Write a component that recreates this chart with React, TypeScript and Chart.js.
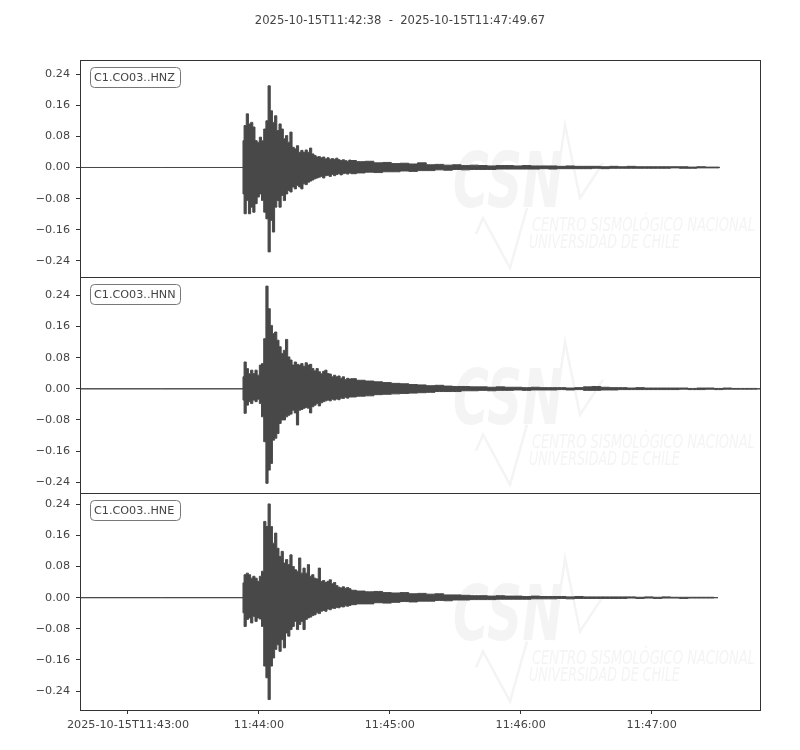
import React, { useEffect, useRef } from 'react';
import { Chart, registerables } from 'chart.js';

Chart.register(...registerables);

// ---- time axis (seconds after 2025-10-15T11:42:38) ----
const TITLE = '2025-10-15T11:42:38  -  2025-10-15T11:47:49.67';
const T_MAX = 311.67;
const X_TICKS = [22, 82, 142, 202, 262];
const X_TICK_LABELS = ['2025-10-15T11:43:00', '11:44:00', '11:45:00', '11:46:00', '11:47:00'];
const Y_TICKS = [-0.24, -0.16, -0.08, 0, 0.08, 0.16, 0.24];

const CHANNELS = ['C1.CO03..HNZ', 'C1.CO03..HNN', 'C1.CO03..HNE'];
const Y_RANGES = [
  [-0.2807, 0.2764],
  [-0.2687, 0.2883],
  [-0.2888, 0.2682],
];

const ONSET = 74.7; // first arrival (s)
const DENSE_STEP = 1; // seconds per max/min pair
const TAIL_STEP = 4;
const TRACE_END = [293.3, 311.67, 292.4];

// ---- HNZ envelope (max / min per second, then per 4 s) ----
const Z_HI = [
  0.069, 0.108, 0.138, 0.112, 0.116, 0.104, 0.069, 0.065, 0.078, 0.069,
  0.099, 0.120, 0.210, 0.146, 0.116, 0.133, 0.095, 0.112, 0.099, 0.074,
  0.082, 0.065, 0.091, 0.052, 0.048, 0.056, 0.039, 0.044, 0.039, 0.045,
  0.039, 0.050, 0.035, 0.031, 0.027, 0.028, 0.025, 0.027, 0.022, 0.025,
  0.021, 0.023, 0.021, 0.024, 0.020, 0.018, 0.020, 0.018, 0.016, 0.019,
];
const Z_LO = [
  -0.068, -0.119, -0.085, -0.119, -0.102, -0.115, -0.093, -0.076, -0.068, -0.085,
  -0.115, -0.132, -0.217, -0.136, -0.166, -0.102, -0.085, -0.102, -0.072, -0.085,
  -0.068, -0.059, -0.063, -0.050, -0.055, -0.046, -0.050, -0.055, -0.042, -0.044,
  -0.038, -0.035, -0.032, -0.029, -0.027, -0.025, -0.023, -0.027, -0.021, -0.020,
  -0.023, -0.018, -0.021, -0.018, -0.016, -0.019, -0.016, -0.015, -0.017, -0.014,
];
const Z_TAIL_HI = [
  0.018, 0.015, 0.016, 0.012, 0.013, 0.010, 0.011, 0.009, 0.012, 0.007,
  0.008, 0.006, 0.007, 0.005, 0.006, 0.005, 0.004, 0.005, 0.005, 0.004,
  0.005, 0.004, 0.004, 0.004, 0.003, 0.004, 0.003, 0.003, 0.003, 0.002,
  0.003, 0.002, 0.003, 0.002, 0.002, 0.002, 0.002, 0.002, 0.002, 0.001,
  0.002, 0.001, 0.001,
];
const Z_TAIL_LO = [
  -0.016, -0.014, -0.012, -0.013, -0.011, -0.011, -0.009, -0.010, -0.008, -0.008,
  -0.006, -0.007, -0.005, -0.006, -0.005, -0.005, -0.005, -0.004, -0.004, -0.004,
  -0.004, -0.004, -0.003, -0.004, -0.003, -0.003, -0.003, -0.003, -0.002, -0.003,
  -0.002, -0.002, -0.002, -0.002, -0.002, -0.002, -0.002, -0.001, -0.002, -0.002,
  -0.001, -0.001, -0.001,
];

// ---- HNN envelope ----
const N_HI = [
  0.031, 0.069, 0.052, 0.039, 0.048, 0.039, 0.048, 0.035, 0.061, 0.065,
  0.129, 0.264, 0.206, 0.163, 0.142, 0.146, 0.125, 0.108, 0.091, 0.099,
  0.127, 0.082, 0.074, 0.061, 0.069, 0.063, 0.061, 0.065, 0.058, 0.067,
  0.061, 0.063, 0.052, 0.046, 0.052, 0.044, 0.039, 0.045, 0.048, 0.039,
  0.038, 0.031, 0.035, 0.031, 0.033, 0.027, 0.031, 0.024, 0.027, 0.025,
];
const N_LO = [
  -0.029, -0.063, -0.042, -0.033, -0.038, -0.029, -0.033, -0.027, -0.038, -0.072,
  -0.136, -0.243, -0.209, -0.192, -0.132, -0.127, -0.115, -0.089, -0.080, -0.080,
  -0.072, -0.068, -0.065, -0.055, -0.062, -0.093, -0.055, -0.053, -0.050, -0.048,
  -0.050, -0.062, -0.046, -0.042, -0.038, -0.044, -0.036, -0.033, -0.031, -0.029,
  -0.031, -0.027, -0.029, -0.026, -0.028, -0.024, -0.025, -0.022, -0.024, -0.021,
];
const N_TAIL_HI = [
  0.026, 0.022, 0.020, 0.018, 0.016, 0.014, 0.013, 0.011, 0.010, 0.008,
  0.009, 0.007, 0.006, 0.006, 0.005, 0.005, 0.004, 0.005, 0.004, 0.004,
  0.003, 0.004, 0.003, 0.003, 0.003, 0.002, 0.003, 0.005, 0.006, 0.004,
  0.003, 0.003, 0.002, 0.003, 0.002, 0.002, 0.002, 0.002, 0.002, 0.001,
  0.002, 0.002, 0.001, 0.002, 0.001, 0.001, 0.001,
];
const N_TAIL_LO = [
  -0.021, -0.019, -0.018, -0.015, -0.014, -0.013, -0.012, -0.011, -0.010, -0.009,
  -0.007, -0.007, -0.007, -0.005, -0.005, -0.004, -0.005, -0.004, -0.004, -0.003,
  -0.004, -0.003, -0.003, -0.003, -0.002, -0.003, -0.002, -0.004, -0.004, -0.003,
  -0.003, -0.002, -0.002, -0.002, -0.002, -0.002, -0.002, -0.002, -0.001, -0.002,
  -0.002, -0.001, -0.002, -0.001, -0.001, -0.001, -0.001,
];

// ---- HNE envelope ----
const E_HI = [
  0.038, 0.059, 0.063, 0.059, 0.050, 0.055, 0.050, 0.042, 0.055, 0.068,
  0.196, 0.183, 0.241, 0.183, 0.140, 0.166, 0.127, 0.106, 0.119, 0.089,
  0.098, 0.085, 0.110, 0.080, 0.072, 0.068, 0.102, 0.063, 0.076, 0.063,
  0.085, 0.055, 0.059, 0.050, 0.048, 0.076, 0.042, 0.044, 0.039, 0.042,
  0.046, 0.036, 0.039, 0.031, 0.027, 0.025, 0.028, 0.024, 0.026, 0.023,
];
const E_LO = [
  -0.039, -0.074, -0.056, -0.052, -0.065, -0.048, -0.061, -0.052, -0.055, -0.074,
  -0.176, -0.206, -0.262, -0.176, -0.155, -0.133, -0.121, -0.138, -0.108, -0.129,
  -0.091, -0.099, -0.082, -0.074, -0.061, -0.082, -0.069, -0.061, -0.082, -0.056,
  -0.052, -0.050, -0.046, -0.044, -0.039, -0.041, -0.035, -0.033, -0.035, -0.029,
  -0.031, -0.027, -0.028, -0.025, -0.026, -0.023, -0.024, -0.021, -0.022, -0.020,
];
const E_TAIL_HI = [
  0.019, 0.017, 0.015, 0.016, 0.013, 0.012, 0.013, 0.010, 0.011, 0.009,
  0.010, 0.007, 0.007, 0.006, 0.005, 0.005, 0.004, 0.005, 0.004, 0.004,
  0.003, 0.004, 0.003, 0.003, 0.003, 0.002, 0.003, 0.002, 0.002, 0.002,
  0.002, 0.002, 0.002, 0.001, 0.002, 0.001, 0.002, 0.001, 0.001, 0.001,
  0.001, 0.001,
];
const E_TAIL_LO = [
  -0.018, -0.016, -0.016, -0.013, -0.014, -0.012, -0.010, -0.011, -0.009, -0.009,
  -0.007, -0.008, -0.006, -0.006, -0.005, -0.005, -0.005, -0.004, -0.004, -0.004,
  -0.004, -0.003, -0.003, -0.003, -0.002, -0.003, -0.002, -0.002, -0.002, -0.002,
  -0.002, -0.002, -0.001, -0.002, -0.001, -0.002, -0.001, -0.001, -0.002, -0.001,
  -0.001, -0.001,
];

const TRACE_COLOR = '#484848';
const AXIS_COLOR = '#333333';
const TEXT_COLOR = '#444444';
const FONT = "'DejaVu Sans', sans-serif";
const WATERMARK = '#f4f4f4';

// one envelope line (upper or lower) from the dense and tail samples
function buildEnvelope(dense: number[], tail: number[], end: number) {
  const pts: { x: number; y: number }[] = [{ x: 0, y: 0 }, { x: ONSET, y: 0 }];
  for (let i = 0; i < dense.length; i++) {
    pts.push({ x: ONSET + i * DENSE_STEP, y: dense[i] });
  }
  const tailStart = ONSET + dense.length * DENSE_STEP;
  for (let k = 0; k < tail.length; k++) {
    pts.push({ x: tailStart + k * TAIL_STEP, y: tail[k] });
  }
  pts.push({ x: end, y: 0 });
  return pts;
}

const fmtY = (v: number) => {
  const r = Math.round(v * 100) / 100;
  if (Math.abs(r) < 1e-9) return '0.00';
  return (r < 0 ? '\u2212' : '') + Math.abs(r).toFixed(2);
};

const AXIS_IDS = ['p0', 'p1', 'p2'];

const panelPlugin = {
  id: 'panelDecor',
  beforeDatasetsDraw(chart: any) {
    const ctx = chart.ctx as CanvasRenderingContext2D;
    const area = chart.chartArea;
    AXIS_IDS.forEach((id) => {
      const s = chart.scales[id];
      const top = s.top;
      ctx.save();
      ctx.beginPath();
      ctx.rect(area.left, s.top, area.right - area.left, s.bottom - s.top);
      ctx.clip();
      ctx.fillStyle = WATERMARK;
      ctx.strokeStyle = WATERMARK;
      ctx.textBaseline = 'alphabetic';
      ctx.textAlign = 'left';
      ctx.font = `italic bold 76px ${FONT}`;
      ctx.fillText('CSN', 453, top + 147, 110);
      ctx.lineWidth = 2.5;
      ctx.lineJoin = 'miter';
      ctx.beginPath();
      ctx.moveTo(553, top + 147);
      ctx.lineTo(565, top + 65);
      ctx.lineTo(580, top + 138);
      ctx.lineTo(603, top + 103);
      ctx.stroke();
      ctx.beginPath();
      ctx.moveTo(476, top + 174);
      ctx.lineTo(483, top + 158);
      ctx.lineTo(510, top + 208);
      ctx.lineTo(527, top + 148);
      ctx.stroke();
      ctx.font = `italic 20px ${FONT}`;
      ctx.fillText('CENTRO SISMOLÓGICO NACIONAL', 532, top + 171, 223);
      ctx.fillText('UNIVERSIDAD DE CHILE', 529, top + 188, 151);
      ctx.restore();
    });
  },
  afterDatasetsDraw(chart: any) {
    const ctx = chart.ctx as CanvasRenderingContext2D;
    const area = chart.chartArea;
    const L = Math.round(area.left) + 0.5;
    const R = Math.round(area.right) + 0.5;
    ctx.save();
    ctx.strokeStyle = AXIS_COLOR;
    ctx.lineWidth = 1;
    AXIS_IDS.forEach((id, i) => {
      const s = chart.scales[id];
      const T = Math.round(s.top) + 0.5;
      const B = Math.round(s.bottom) + 0.5;
      ctx.strokeRect(L, T, R - L, B - T);
      // channel label box
      const bx = L + 10;
      const by = Math.round(s.top) + 7.5;
      const bw = 90;
      const bh = 20;
      ctx.save();
      ctx.beginPath();
      (ctx as any).roundRect(bx, by, bw, bh, 4);
      ctx.fillStyle = '#ffffff';
      ctx.fill();
      ctx.strokeStyle = '#777777';
      ctx.stroke();
      ctx.fillStyle = TEXT_COLOR;
      ctx.font = `11.2px ${FONT}`;
      ctx.textBaseline = 'middle';
      ctx.textAlign = 'left';
      ctx.fillText(CHANNELS[i], bx + 3.5, by + bh / 2 + 0.5);
      ctx.restore();
    });
    ctx.fillStyle = TEXT_COLOR;
    ctx.font = `11.6px ${FONT}`;
    ctx.textAlign = 'center';
    ctx.textBaseline = 'middle';
    ctx.fillText(TITLE, 400, 21);
    ctx.restore();
  },
};

export default function App() {
  const ref = useRef<HTMLCanvasElement | null>(null);
  useEffect(() => {
    if (!ref.current) return;
    const envelopes = [
      [buildEnvelope(Z_LO, Z_TAIL_LO, TRACE_END[0]), buildEnvelope(Z_HI, Z_TAIL_HI, TRACE_END[0])],
      [buildEnvelope(N_LO, N_TAIL_LO, TRACE_END[1]), buildEnvelope(N_HI, N_TAIL_HI, TRACE_END[1])],
      [buildEnvelope(E_LO, E_TAIL_LO, TRACE_END[2]), buildEnvelope(E_HI, E_TAIL_HI, TRACE_END[2])],
    ];
    const datasets: any[] = [];
    envelopes.forEach(([lo, hi], i) => {
      const loIndex = datasets.length;
      datasets.push({
        label: CHANNELS[i] + ' min',
        data: lo,
        yAxisID: AXIS_IDS[i],
        borderColor: TRACE_COLOR,
        borderWidth: 1,
        pointRadius: 0,
        stepped: 'middle',
        fill: false,
      });
      datasets.push({
        label: CHANNELS[i] + ' max',
        data: hi,
        yAxisID: AXIS_IDS[i],
        borderColor: TRACE_COLOR,
        backgroundColor: TRACE_COLOR,
        borderWidth: 1,
        pointRadius: 0,
        stepped: 'middle',
        fill: loIndex,
      });
    });
    const yScale = (i: number) => ({
      type: 'linear',
      position: 'left',
      stack: 'traces',
      stackWeight: 1,
      offset: false,
      min: Y_RANGES[i][0],
      max: Y_RANGES[i][1],
      afterBuildTicks: (s: any) => {
        s.ticks = Y_TICKS.map((v) => ({ value: v }));
      },
      afterFit: (s: any) => {
        s.width = 80;
      },
      ticks: {
        callback: (v: any) => fmtY(Number(v)),
        font: { family: FONT, size: 11.2 },
        color: TEXT_COLOR,
        padding: 6,
        autoSkip: false,
      },
      grid: { drawOnChartArea: false, drawTicks: true, tickLength: 4, color: AXIS_COLOR, lineWidth: 1 },
      border: { display: false },
    });
    // stacked axes are laid out bottom-up: declare the lowest panel first
    const scales: any = {
      x: {
        type: 'linear',
        position: 'bottom',
        min: 0,
        max: T_MAX,
        afterBuildTicks: (s: any) => {
          s.ticks = X_TICKS.map((v) => ({ value: v }));
        },
        afterFit: (s: any) => {
          s.height = 40;
        },
        ticks: {
          callback: (_v: any, idx: number) => X_TICK_LABELS[idx],
          font: { family: FONT, size: 11.2 },
          color: TEXT_COLOR,
          padding: 4,
          maxRotation: 0,
          autoSkip: false,
        },
        grid: { drawOnChartArea: false, drawTicks: true, tickLength: 4, color: AXIS_COLOR, lineWidth: 1 },
        border: { display: false },
      },
    };
    scales[AXIS_IDS[2]] = yScale(2);
    scales[AXIS_IDS[1]] = yScale(1);
    scales[AXIS_IDS[0]] = yScale(0);
    const chart = new Chart(ref.current, {
      type: 'line',
      data: { datasets },
      options: {
        animation: false,
        responsive: false,
        devicePixelRatio: 1,
        parsing: false as any,
        normalized: true,
        events: [],
        layout: { padding: { left: 0, right: 40, top: 60, bottom: 0 } },
        plugins: {
          legend: { display: false },
          tooltip: { enabled: false },
          title: { display: false },
          filler: { propagate: false },
        },
        scales,
      },
      plugins: [panelPlugin],
    } as any);
    return () => chart.destroy();
  }, []);
  return (
    <div style={{ position: 'absolute', left: 0, top: 0, width: 800, height: 750, background: '#fff' }}>
      <canvas ref={ref} width={800} height={750} style={{ width: 800, height: 750, display: 'block' }} />
    </div>
  );
}
